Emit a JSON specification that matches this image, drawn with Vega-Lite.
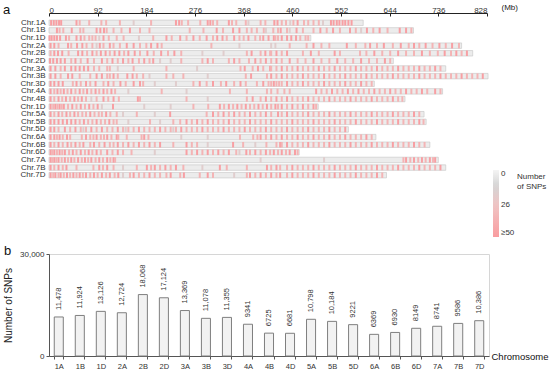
{
  "$schema": "https://vega.github.io/schema/vega-lite/v6.json",
  "padding": {"left": 3, "top": 3, "right": 1, "bottom": 2},
  "autosize": {"type": "pad"},
  "config": {
    "font": "Liberation Sans",
    "view": {"stroke": null},
    "axis": {"labelColor": "#333333", "titleColor": "#222222", "domainColor": "#555555", "tickColor": "#555555", "labelFont": "Liberation Sans", "titleFont": "Liberation Sans"},
    "title": {"font": "Liberation Sans", "fontWeight": "normal", "fontSize": 13, "color": "#111111"}
  },
  "datasets": {
    "len": [
      {"chr": "1A", "len": 594}, {"chr": "1B", "len": 689}, {"chr": "1D", "len": 495},
      {"chr": "2A", "len": 780}, {"chr": "2B", "len": 801}, {"chr": "2D", "len": 651},
      {"chr": "3A", "len": 750}, {"chr": "3B", "len": 830}, {"chr": "3D", "len": 615},
      {"chr": "4A", "len": 744}, {"chr": "4B", "len": 673}, {"chr": "4D", "len": 509},
      {"chr": "5A", "len": 709}, {"chr": "5B", "len": 713}, {"chr": "5D", "len": 566},
      {"chr": "6A", "len": 618}, {"chr": "6B", "len": 720}, {"chr": "6D", "len": 473},
      {"chr": "7A", "len": 736}, {"chr": "7B", "len": 750}, {"chr": "7D", "len": 638}
    ],
    "bins": [
      {"chr": "1A", "lvl": 48, "p": [4,9,14,19,23,52,240,246,300,305,340,426,432,470,533,538,544,549,555,560,566,572]},
      {"chr": "1A", "lvl": 36, "p": [58,76,99,108,134,193,251,263,286,310,318,346,354,372,400,409,440,448,462,482,490,500,510]},
      {"chr": "1A", "lvl": 18, "p": [160,377,456,518]},
      {"chr": "1B", "lvl": 48, "p": [15,43,90,97,104,153,317,348,360,438,468,513,537,569,601,625,663,675]},
      {"chr": "1B", "lvl": 36, "p": [20,27,59,65,109,122,137,172,190,266,292,329,374,383,393,406,424,433,450,480,500,525,550,580,613,640,685]},
      {"chr": "1B", "lvl": 18, "p": [410,455,590]},
      {"chr": "1D", "lvl": 48, "p": [1,5,10,15,21,32,52,60,103,222,248,273,298,318,328,350,377,405,415,425,440,450,458,467]},
      {"chr": "1D", "lvl": 36, "p": [38,67,76,82,88,113,128,141,197,232,260,285,310,336,360,368,390,399,433,428,475,485,490]},
      {"chr": "1D", "lvl": 18, "p": [95,170]},
      {"chr": "2A", "lvl": 48, "p": [3,10,36,53,63,96,115,147,160,193,205,500,563,607,633,665,690,712,738,762]},
      {"chr": "2A", "lvl": 36, "p": [18,42,71,82,103,122,134,172,184,213,307,455,487,515,530,580,598,620,650,680,700,725,750,775]},
      {"chr": "2A", "lvl": 18, "p": [90,428,420,360]},
      {"chr": "2B", "lvl": 48, "p": [10,17,25,55,63,82,98,107,124,133,150,162,186,212,237,383,409,430,450,495,540,615,660,705,748,770,790]},
      {"chr": "2B", "lvl": 36, "p": [3,37,72,90,115,142,172,198,225,250,374,400,418,420,440,480,510,550,588,600,630,645,675,690,720,735,760,780]},
      {"chr": "2B", "lvl": 18, "p": [290,330]},
      {"chr": "2D", "lvl": 48, "p": [2,8,15,22,30,50,73,100,120,140,158,180,197,300,350,390,410,430,455,500,545,590,635]},
      {"chr": "2D", "lvl": 36, "p": [42,60,85,110,130,150,170,190,250,290,310,340,360,378,400,420,440,470,485,515,530,560,575,605,620,645]},
      {"chr": "2D", "lvl": 18, "p": [210,230]},
      {"chr": "3A", "lvl": 48, "p": [3,12,30,42,50,58,66,74,370,395,418,440,470,510,540,580,620,660,700,730]},
      {"chr": "3A", "lvl": 36, "p": [22,85,95,110,115,160,222,362,385,405,430,420,450,460,480,490,500,520,530,550,560,570,590,600,610,630,640,650,670,680,690,710,720,740]},
      {"chr": "3A", "lvl": 18, "p": [130,280]},
      {"chr": "3B", "lvl": 48, "p": [3,12,36,44,90,100,122,148,158,382,420,440,480,520,560,600,650,700,740,780,820]},
      {"chr": "3B", "lvl": 36, "p": [22,58,78,110,115,130,166,178,222,235,254,372,412,430,450,460,470,490,500,510,530,540,550,570,580,590,610,620,630,640,660,670,680,690,710,720,730,750,760,770,790,800,810]},
      {"chr": "3B", "lvl": 18, "p": [190,300]},
      {"chr": "3D", "lvl": 48, "p": [3,10,18,26,52,70,88,112,135,160,172,285,310,335,362,405,425,450,480,520,560,590]},
      {"chr": "3D", "lvl": 36, "p": [45,60,78,103,122,145,178,273,298,325,350,372,393,415,435,420,430,440,460,470,490,500,510,530,540,550,570,580,600,610]},
      {"chr": "3D", "lvl": 18, "p": [200,240]},
      {"chr": "4A", "lvl": 48, "p": [3,16,28,42,58,72,88,103,118,505,535,565,585,615,645,675,705,730]},
      {"chr": "4A", "lvl": 36, "p": [10,22,35,50,65,80,95,110,125,213,342,374,412,420,432,445,455,515,525,545,555,575,595,605,625,635,655,665,685,695,715,740]},
      {"chr": "4A", "lvl": 18, "p": [150,260]},
      {"chr": "4B", "lvl": 48, "p": [3,18,32,48,62,103,122,168,385,410,430,450,490,530,570,610,650]},
      {"chr": "4B", "lvl": 36, "p": [10,25,40,55,70,90,112,132,172,260,374,400,420,440,460,470,480,500,510,520,540,550,560,580,590,600,620,630,640,660,668]},
      {"chr": "4B", "lvl": 18, "p": [80,300]},
      {"chr": "4D", "lvl": 48, "p": [3,12,20,28,44,60,76,92,121,323,340,356,372,396,412,428,440,460,480,500]},
      {"chr": "4D", "lvl": 36, "p": [8,16,24,36,52,68,84,273,301,331,348,364,380,388,404,420,433,450,470,490,505]},
      {"chr": "4D", "lvl": 18, "p": [100,180,230]},
      {"chr": "5A", "lvl": 48, "p": [3,18,33,48,78,108,229,310,330,350,380,410,433,450,490,530,570,610,650,690]},
      {"chr": "5A", "lvl": 36, "p": [10,25,40,55,63,70,86,94,100,116,128,166,298,320,340,360,370,390,400,420,440,460,470,480,500,510,520,540,550,560,580,590,600,620,630,640,660,670,680,700]},
      {"chr": "5A", "lvl": 18, "p": [140,200]},
      {"chr": "5B", "lvl": 48, "p": [3,10,18,26,34,42,50,66,90,114,260,280,300,340,380,420,460,500,540,580,620,660,700]},
      {"chr": "5B", "lvl": 36, "p": [58,74,82,98,106,122,128,191,235,248,270,290,310,320,330,350,360,370,390,400,410,430,440,450,470,480,490,510,520,530,550,560,570,590,600,610,630,640,650,670,680,690,708]},
      {"chr": "5B", "lvl": 18, "p": [150,210]},
      {"chr": "5D", "lvl": 48, "p": [3,10,30,50,80,100,130,170,210,250,290,330,370,410,450,490,530,560]},
      {"chr": "5D", "lvl": 36, "p": [18,40,60,70,90,110,120,140,150,160,180,190,200,220,230,240,260,270,280,300,310,320,340,350,360,380,390,400,420,430,440,460,470,480,500,510,520,540,550]},
      {"chr": "5D", "lvl": 18, "p": [65,145,235]},
      {"chr": "6A", "lvl": 48, "p": [3,10,20,34,70,90,110,128,180,400,420,440,470,500,530,560,600]},
      {"chr": "6A", "lvl": 36, "p": [15,26,40,62,78,84,98,104,118,131,147,175,188,361,386,394,410,430,450,460,480,490,510,520,540,550,570,580,590,610]},
      {"chr": "6A", "lvl": 18, "p": [250,300]},
      {"chr": "6B", "lvl": 48, "p": [3,18,35,50,65,85,105,130,150,170,190,210,260,348,437,450,490,530,570,610,650,690]},
      {"chr": "6B", "lvl": 36, "p": [10,26,42,58,78,95,115,122,140,160,180,200,235,270,280,367,411,430,440,460,470,480,500,510,520,540,550,560,580,590,600,620,630,640,660,670,680,700,710]},
      {"chr": "6B", "lvl": 18, "p": [300,390]},
      {"chr": "6D", "lvl": 48, "p": [3,10,20,30,45,60,75,90,110,130,260,280,300,320,340,373,390,410,425,440,455,465]},
      {"chr": "6D", "lvl": 36, "p": [6,15,25,38,52,68,82,98,120,140,156,270,290,310,330,354,380,400,418,433,448,470]},
      {"chr": "6D", "lvl": 18, "p": [200,360]},
      {"chr": "7A", "lvl": 48, "p": [3,10,18,30,42,55,68,80,95,110,122,675,690,705,720,730]},
      {"chr": "7A", "lvl": 36, "p": [6,14,24,36,48,62,74,88,102,116,125,670,683,698,712,726]},
      {"chr": "7A", "lvl": 18, "p": [400,520]},
      {"chr": "7B", "lvl": 48, "p": [3,18,33,95,110,185,200,220,240,323,412,430,460,500,540,580,620,660,700,740]},
      {"chr": "7B", "lvl": 36, "p": [10,26,52,84,102,122,166,193,210,230,254,336,374,420,437,450,470,480,490,510,520,530,550,560,570,590,600,610,630,640,650,670,680,690,710,720,730]},
      {"chr": "7B", "lvl": 18, "p": [140,290]},
      {"chr": "7D", "lvl": 48, "p": [3,12,22,34,46,58,70,85,100,115,131,160,190,230,255,300,380,400,420,437,460,500,540,580,620]},
      {"chr": "7D", "lvl": 36, "p": [8,18,28,40,52,64,78,92,108,124,153,170,180,200,210,222,248,285,310,374,390,410,430,450,470,480,490,510,520,530,550,560,570,590,600,610,630]},
      {"chr": "7D", "lvl": 18, "p": [140,350]}
    ],
    "snp": [
      {"chr": "1A", "n": 11478}, {"chr": "1B", "n": 11924}, {"chr": "1D", "n": 13126},
      {"chr": "2A", "n": 12724}, {"chr": "2B", "n": 18068}, {"chr": "2D", "n": 17124},
      {"chr": "3A", "n": 13369}, {"chr": "3B", "n": 11078}, {"chr": "3D", "n": 11355},
      {"chr": "4A", "n": 9341}, {"chr": "4B", "n": 6725}, {"chr": "4D", "n": 6681},
      {"chr": "5A", "n": 10798}, {"chr": "5B", "n": 10184}, {"chr": "5D", "n": 9221},
      {"chr": "6A", "n": 6369}, {"chr": "6B", "n": 6930}, {"chr": "6D", "n": 8149},
      {"chr": "7A", "n": 8741}, {"chr": "7B", "n": 9586}, {"chr": "7D", "n": 10386}
    ]
  },
  "bounds": "flush",
  "spacing": 75,
  "vconcat": [
    {
      "width": 438,
      "height": 160,
      "title": {"text": "a", "anchor": "start", "frame": "group", "dx": -46, "dy": 14, "offset": 0},
      "layer": [
        {
          "data": {"name": "len"},
          "mark": {"type": "bar", "color": "#ececec", "stroke": "#c4c4c4", "strokeWidth": 0.6, "height": {"band": 0.72}},
          "encoding": {
            "y": {"field": "chr", "type": "nominal",
              "scale": {"domain": ["1A","1B","1D","2A","2B","2D","3A","3B","3D","4A","4B","4D","5A","5B","5D","6A","6B","6D","7A","7B","7D"], "paddingInner": 0, "paddingOuter": 0},
              "axis": {"title": null, "ticks": false, "domain": false, "labelFontSize": 8, "labelPadding": 4,
                "labelExpr": "datum.value == '4D' ? 'Chr.1D' : 'Chr.' + datum.value"}},
            "x": {"field": "len", "type": "quantitative",
              "scale": {"domain": [0, 828], "nice": false},
              "axis": {"orient": "top", "values": [0,92,184,276,368,460,552,644,736,828], "grid": false, "offset": 6,
                "tickSize": -3, "labelPadding": 2, "labelFontSize": 8, "domainColor": "#222222", "tickColor": "#222222", "domainWidth": 1,
                "title": "(Mb)", "titleFontSize": 8, "titleFontWeight": "normal", "titleX": 452, "titleY": -6, "titleAlign": "left", "titleBaseline": "middle", "titleAnchor": null}}
          }
        },
        {
          "data": {"name": "bins"},
          "transform": [{"flatten": ["p"]}],
          "mark": {"type": "tick", "thickness": 2, "size": 5.5, "opacity": 1},
          "encoding": {
            "y": {"field": "chr", "type": "nominal"},
            "x": {"field": "p", "type": "quantitative"},
            "color": {"field": "lvl", "type": "quantitative",
              "scale": {"domain": [50, 26, 12, 0], "range": ["#f99ca0", "#efc4c4", "#d4d4d4", "#f4f4f4"], "clamp": true},
              "legend": {"orient": "none", "legendX": 444, "legendY": 151, "direction": "vertical",
                "gradientLength": 67, "gradientThickness": 6, "values": [0, 26, 50],
                "labelExpr": "datum.value == 50 ? '≥50' : datum.label", "labelFontSize": 8, "labelColor": "#333333",
                "title": ["Number", "of SNPs"], "titleOrient": "right", "titleAnchor": "end", "titleBaseline": "top",
                "titleFontSize": 8, "titleFontWeight": "normal", "titleColor": "#333333", "titlePadding": 3, "titleAlign": "left", "titleLineHeight": 10,
                "encoding": {"title": {"angle": {"value": 0}, "align": {"value": "left"}, "baseline": {"value": "top"}, "dy": {"value": 13}}}}}
          }
        }
      ]
    },
    {
      "width": 440,
      "height": 102,
      "data": {"name": "snp"},
      "view": {"stroke": "#d6d6d6"},
      "title": {"text": "b", "anchor": "start", "frame": "group", "dx": -45, "offset": 0, "dy": 8},
      "encoding": {
        "x": {"field": "chr", "type": "nominal", "sort": null,
          "scale": {"paddingInner": 0.57, "paddingOuter": 0.25},
          "axis": {"labelAngle": 0, "labelFontSize": 7.5, "tickBand": "extent", "tickSize": 3, "labelPadding": 3,
            "title": "Chromosome", "titleFontSize": 9.5, "titleFontWeight": "normal", "titleX": 442, "titleY": 0,
            "titleAlign": "left", "titleBaseline": "middle", "titleAnchor": null, "titleColor": "#111111"}}
      },
      "layer": [
        {
          "mark": {"type": "bar", "fill": "#f2f2f2", "stroke": "#7f7f7f", "strokeWidth": 1},
          "encoding": {
            "y": {"field": "n", "type": "quantitative",
              "scale": {"domain": [0, 30000], "nice": false},
              "axis": {"values": [0,5000,10000,15000,20000,25000,30000], "grid": false, "tickSize": 3, "labelFontSize": 8,
                "labelExpr": "datum.value >= 10000 ? format(datum.value, ',') : format(datum.value, 'd')",
                "title": "Number of SNPs", "titleFontSize": 10, "titleFontWeight": "normal", "titlePadding": 6}}
          }
        },
        {
          "mark": {"type": "text", "angle": 270, "align": "left", "baseline": "middle", "dx": 7, "fontSize": 7.5, "color": "#333333"},
          "encoding": {
            "y": {"field": "n", "type": "quantitative"},
            "text": {"condition": {"test": "datum.n >= 10000", "field": "n", "type": "quantitative", "format": ","}, "field": "n", "type": "quantitative", "format": "d"}
          }
        }
      ]
    }
  ]
}
